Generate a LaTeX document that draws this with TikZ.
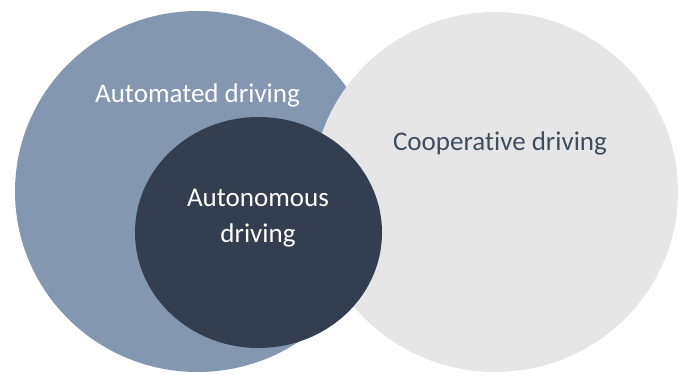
\documentclass[tikz,border=0pt]{standalone}
\usepackage{fontspec}
\setmainfont{Carlito}[Ligatures=NoCommon]
\usepackage{tikz}
\usetikzlibrary{shapes.geometric}

\definecolor{automated}{HTML}{8497B0}
\definecolor{cooperative}{HTML}{E7E6E6}
\definecolor{autonomous}{HTML}{333F50}
\definecolor{slatetext}{HTML}{3F4D60}

\begin{document}
\begin{tikzpicture}[x=0.5pt, y=-0.5pt,
    set/.style={ellipse, inner sep=0, draw=none},
    lbl/.style={font=\fontsize{13.5}{18}\selectfont, align=center, inner sep=0}]
\useasboundingbox (0,0) rectangle (678,374);
                \node[set, fill=automated, minimum width=182.5pt, minimum height=180.5pt](A) at (197.5,191.5) {};
                \node[set, fill=cooperative, minimum width=183pt, minimum height=180pt](C) at (495,192) {};
                \node[set, fill=autonomous, minimum width=123.5pt, minimum height=115.5pt](N) at (258.5,232.5) {};
\node[lbl, text=white] (Alabel) at (197.5,95) {Automated driving};
\node[lbl, text=slatetext] (Clabel) at (500,143) {Cooperative driving};
                                    \node[lbl, text=white] (Nlabel) at (258,218) {Autonomous\\driving};

        \end{tikzpicture}
\end{document}
